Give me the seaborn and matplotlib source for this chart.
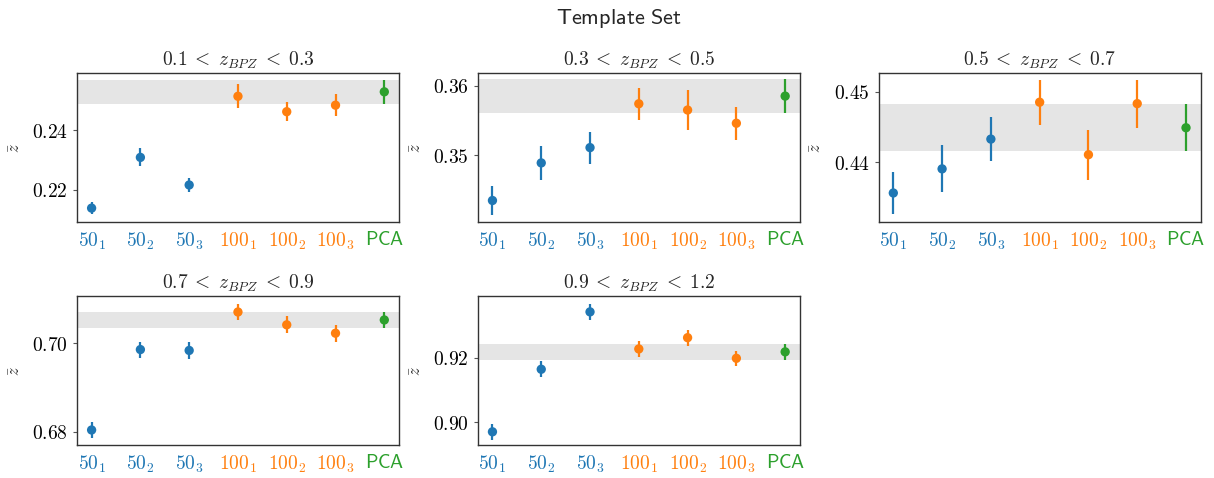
import numpy as np
import pandas as pd
import matplotlib
matplotlib.use("Agg")
import matplotlib.pyplot as plt
import seaborn as sns
from matplotlib.ticker import FuncFormatter, MultipleLocator

sns.set_style("ticks")
plt.rcParams["mathtext.fontset"] = "cm"
plt.rcParams["font.family"] = ["DejaVu Sans"]

# ---- data ----
labels = ["50_1", "50_2", "50_3", "100_1", "100_2", "100_3", "PCA"]
groups = ["50", "50", "50", "100", "100", "100", "PCA"]
titles = [r"$0.1\;<\;z_{BPZ}\;<\;0.3$", r"$0.3\;<\;z_{BPZ}\;<\;0.5$", r"$0.5\;<\;z_{BPZ}\;<\;0.7$",
          r"$0.7\;<\;z_{BPZ}\;<\;0.9$", r"$0.9\;<\;z_{BPZ}\;<\;1.2$"]

means_1 = [0.2138, 0.2309, 0.2216, 0.2515, 0.2463, 0.2485, 0.2530]
errs_1 = [0.0021, 0.0030, 0.0022, 0.0040, 0.0033, 0.0037, 0.0041]
means_2 = [0.3435, 0.3489, 0.3511, 0.3574, 0.3565, 0.3546, 0.3585]
errs_2 = [0.0021, 0.0024, 0.0023, 0.0023, 0.0029, 0.0024, 0.0024]
means_3 = [0.4357, 0.4391, 0.4433, 0.4485, 0.4411, 0.4483, 0.4449]
errs_3 = [0.0030, 0.0033, 0.0031, 0.0032, 0.0035, 0.0034, 0.0033]
means_4 = [0.6804, 0.6986, 0.6984, 0.7071, 0.7042, 0.7023, 0.7053]
errs_4 = [0.0018, 0.0018, 0.0019, 0.0019, 0.0019, 0.0019, 0.0018]
means_5 = [0.8971, 0.9165, 0.9343, 0.9228, 0.9263, 0.9199, 0.9219]
errs_5 = [0.0024, 0.0025, 0.0025, 0.0025, 0.0025, 0.0024, 0.0024]

ylims = [(0.2091, 0.2593), (0.3404, 0.3618), (0.4316, 0.4526), (0.6770, 0.7107), (0.8930, 0.9392)]
ytick_step = [0.02, 0.01, 0.01, 0.02, 0.02]

palette = {"50": "#1f77b4", "100": "#ff7f0e", "PCA": "#2ca02c"}

all_means = [means_1, means_2, means_3, means_4, means_5]
all_errs = [errs_1, errs_2, errs_3, errs_4, errs_5]

fig, axes = plt.subplots(2, 3, figsize=(12.14, 4.78), dpi=100)
fig.subplots_adjust(left=0.0634, right=0.989, top=0.847, bottom=0.069, wspace=0.245, hspace=0.497)

xpos = np.arange(len(labels))
for i, ax in enumerate(axes.flat):
    if i >= 5:
        ax.axis("off")
        continue
    df = pd.DataFrame({"x": xpos, "mean": all_means[i], "err": all_errs[i], "group": groups})
    # band around PCA value
    pca = df[df["group"] == "PCA"].iloc[0]
    ax.axhspan(pca["mean"] - pca["err"], pca["mean"] + pca["err"], color="gray", alpha=0.2, lw=0, zorder=0)
    for _, r in df.iterrows():
        ax.errorbar(r["x"], r["mean"], yerr=r["err"], fmt="none", ecolor=palette[r["group"]], elinewidth=1.6, zorder=2)
    sns.scatterplot(data=df, x="x", y="mean", hue="group", palette=palette, s=45, linewidth=0,
                    legend=False, ax=ax, zorder=3)
    ax.set_xlim(-0.3, 6.3)
    ax.set_ylim(*ylims[i])
    ax.yaxis.set_major_locator(MultipleLocator(ytick_step[i]))
    ax.yaxis.set_major_formatter(FuncFormatter(lambda v, p: r"$\mathsf{%.2f}$" % v))
    ax.set_xticks(xpos)
    ax.set_xticklabels([r"$\mathsf{%s}$" % l for l in labels], fontsize=14)
    for t, g in zip(ax.get_xticklabels(), groups):
        t.set_color(palette[g])
    ax.tick_params(axis="x", length=0, pad=6)
    ax.tick_params(axis="y", labelsize=14, length=3, width=0.8, colors="#555555", labelcolor="black")
    ax.set_xlabel("")
    ax.set_ylabel(r"$\bar{z}$", fontsize=12, labelpad=6)
    ax.set_title(titles[i], fontsize=14, pad=5)
    for s in ax.spines.values():
        s.set_color("#333333")
        s.set_linewidth(1.0)

fig.suptitle(r"$\mathsf{Template\ Set}$", fontsize=16, x=0.51, y=0.985)
fig.savefig("out.png", dpi=100)
